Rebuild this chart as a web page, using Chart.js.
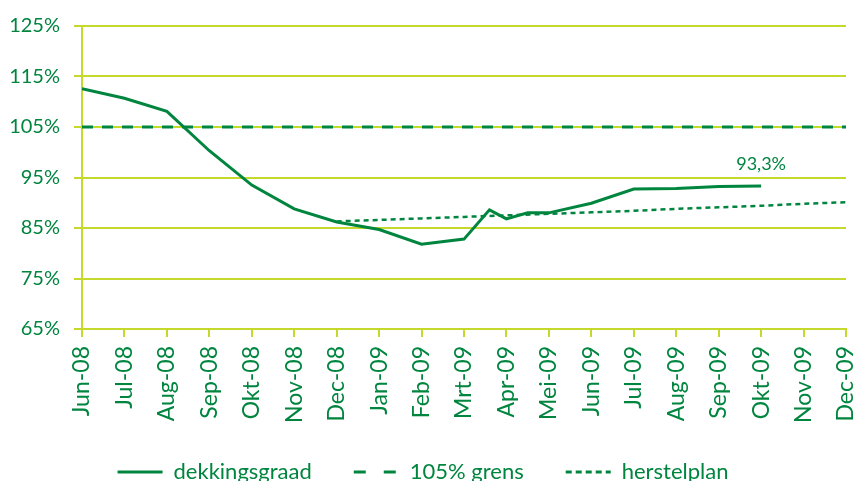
<!DOCTYPE html>
<html>
<head>
<meta charset="utf-8">
<script src="https://cdn.jsdelivr.net/npm/chart.js@4"></script>
<style>
  html, body { margin: 0; padding: 0; background: #fff; overflow: hidden; }
  #wrap { width: 855px; height: 493px; }
</style>
</head>
<body>
<div id="wrap"><canvas id="chart"></canvas></div>
<script>
// month labels on the x axis (index 0 = Jun-08)
const months = ["Jun-08", "Jul-08", "Aug-08", "Sep-08", "Okt-08", "Nov-08", "Dec-08",
  "Jan-09", "Feb-09", "Mrt-09", "Apr-09", "Mei-09", "Jun-09", "Jul-09", "Aug-09",
  "Sep-09", "Okt-09", "Nov-09", "Dec-09"]

// dekkingsgraad (%), positions in months since Jun-08 (a few mid-month readings)
const dekkingsMonth = [0, 1, 2, 3, 4, 5, 6, 7, 8, 9, 9.6, 10, 10.5, 11, 12, 13, 14, 15, 16]
const dekkingsgraad = [112.6, 110.7, 108.1, 100.3, 93.5, 88.8, 86.2, 84.7, 81.8, 82.8,
  88.6, 86.8, 88.0, 88.0, 89.9, 92.7, 92.8, 93.2, 93.3]

// herstelplan (%), Dec-08 .. Dec-09
const herstelMonth = [6, 7, 8, 9, 10, 11, 12, 13, 14, 15, 16, 17, 18]
const herstelplan = [86.3, 86.6, 86.9, 87.2, 87.5, 87.8, 88.1, 88.4, 88.8, 89.1, 89.4, 89.8, 90.1]

// 105% grens
const grensMonth = [0, 18]
const grens = [105, 105]

const yTicks = [65, 75, 85, 95, 105, 115, 125]

const GREEN = "#00853f"
const LIME = "#c5d92d"
const FONT = "Lato, 'DejaVu Sans', sans-serif"

const toPoints = (xs, ys) => xs.map((x, i) => ({ x, y: ys[i] }))

// writes the last dekkingsgraad value above its point
const lastValueLabel = {
  id: "lastValueLabel",
  afterDatasetsDraw(chart) {
    const meta = chart.getDatasetMeta(0)
    const pt = meta.data[meta.data.length - 1]
    const v = dekkingsgraad[dekkingsgraad.length - 1]
    const ctx = chart.ctx
    ctx.save()
    ctx.font = "18px " + FONT
    ctx.fillStyle = GREEN
    ctx.textAlign = "center"
    ctx.textBaseline = "alphabetic"
    ctx.fillText(v.toFixed(1).replace(".", ",") + "%", pt.x, pt.y - 16)
    ctx.restore()
  }
}

const legendDash = [[], [12, 18], [6, 4]]

new Chart(document.getElementById("chart"), {
  type: "line",
  data: {
    datasets: [
      {
        label: "dekkingsgraad",
        data: toPoints(dekkingsMonth, dekkingsgraad),
        borderColor: GREEN,
        backgroundColor: GREEN,
        borderWidth: 3,
        pointRadius: 0,
        tension: 0
      },
      {
        label: "105% grens",
        data: toPoints(grensMonth, grens),
        borderColor: GREEN,
        backgroundColor: GREEN,
        borderWidth: 3,
        borderDash: [11, 9],
        pointRadius: 0
      },
      {
        label: "herstelplan",
        data: toPoints(herstelMonth, herstelplan),
        borderColor: GREEN,
        backgroundColor: GREEN,
        borderWidth: 2.5,
        borderDash: [5, 4],
        pointRadius: 0
      }
    ]
  },
  options: {
    responsive: true,
    maintainAspectRatio: false,
    animation: false,
    layout: { padding: { top: 8, left: 0, right: 9, bottom: 0 } },
    scales: {
      x: {
        type: "linear",
        min: 0,
        max: months.length - 1,
        afterFit: (scale) => {
          scale.paddingRight = 0
          scale.height = 90
          // month labels may reach into the legend's top padding
          scale._computeLabelArea = () => undefined
        },
        border: { color: LIME, width: 2 },
        grid: { drawOnChartArea: false, color: LIME, lineWidth: 2, tickLength: 8 },
        ticks: {
          stepSize: 1,
          autoSkip: false,
          maxRotation: 90,
          minRotation: 90,
          padding: 9,
          color: GREEN,
          font: { family: FONT, size: 23 },
          callback: (v) => months[v]
        }
      },
      y: {
        min: 65,
        max: 125,
        afterFit: (scale) => { scale.width = 82 },
        afterBuildTicks: (scale) => { scale.ticks = yTicks.map((v) => ({ value: v })) },
        border: { color: LIME, width: 2 },
        grid: { color: LIME, lineWidth: 2, tickLength: 8 },
        ticks: {
          padding: 14,
          color: GREEN,
          font: { family: FONT, size: 20 },
          callback: (v) => v + "%"
        }
      }
    },
    plugins: {
      tooltip: { enabled: false },
      legend: {
        position: "bottom",
        labels: {
          usePointStyle: true,
          pointStyle: "line",
          pointStyleWidth: 45,
          padding: 42,
          color: GREEN,
          font: { family: FONT, size: 22 },
          generateLabels(chart) {
            const items = Chart.defaults.plugins.legend.labels.generateLabels(chart)
            items.forEach((it, i) => {
              it.lineDash = legendDash[i]
              it.lineWidth = 3
              it.pointStyle = "line"
            })
            return items
          }
        }
      }
    }
  },
  plugins: [lastValueLabel]
})
</script>
</body>
</html>
